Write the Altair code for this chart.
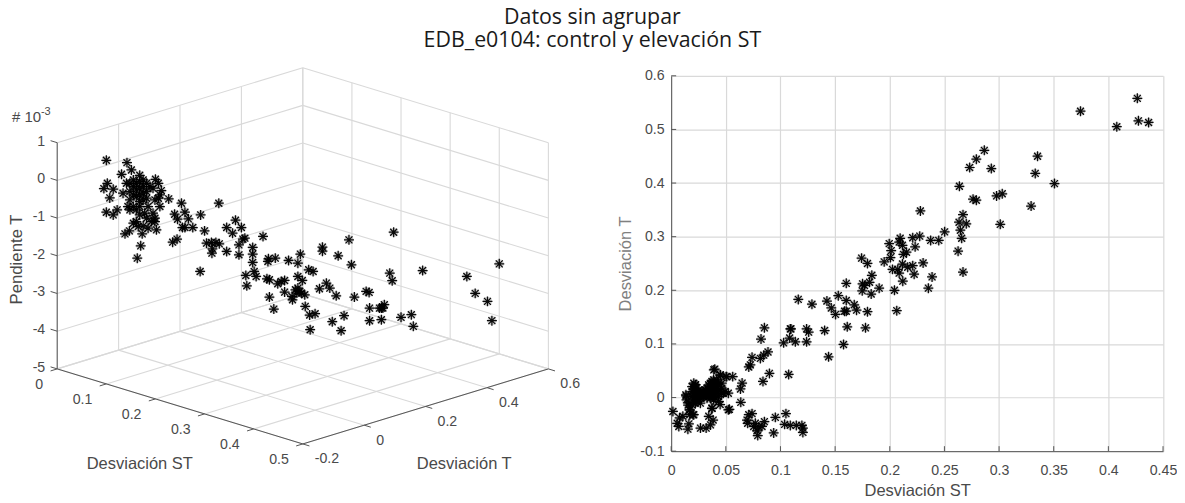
import altair as alt
import pandas as pd

titulo = ["Datos sin agrupar", "EDB_e0104: control y elevación ST"]

# Panel derecho: (Desviación ST, Desviación T)
der_altos = [(.4265,.558),(.3745,.534),(.4077,.505),(.4275,.516),(.4368,.513),(.2865,.461),(.2792,.4445),(.2731,.429),
 (.2929,.427),(.3352,.450),(.3331,.418),(.3507,.399),(.2637,.394),(.2762,.370),(.2792,.368),(.2977,.376),(.3029,.380),
 (.3293,.357),(.3011,.323),(.2670,.341),(.2634,.327),(.2700,.324),(.2646,.312),(.2658,.297),(.2625,.273),(.2670,.234),
 (.2280,.348),(.2502,.309),(.2448,.293),(.2374,.293),(.2274,.301),(.2210,.298),(.2095,.297),(.2086,.290),(.1995,.287),
 (.2232,.281),(.2153,.271),(.2125,.267),(.2013,.274),(.2006,.261),(.1949,.253),(.2305,.251),(.2116,.249),(.2025,.239),
 (.2073,.239),(.2164,.243),(.2210,.246),(.2223,.230),(.2086,.232),(.2119,.217),(.2387,.225),(.2353,.204),(.2043,.200),
 (.2064,.162),(.1903,.204),(.2116,.284)]
der_medios = [(.1836,.228),(.1815,.215),(.1769,.209),(.1751,.212),(.1748,.199),(.1830,.193),(.1742,.260),(.1796,.250),
 (.1602,.213),(.1529,.190),(.1602,.181),(.1675,.173),(.1696,.163),(.1796,.160),(.1586,.161),(.1602,.161),(.1425,.180),
 (.1465,.167),(.1504,.155),(.1611,.132),(.1778,.130),(.1288,.174),(.1163,.183),(.1096,.128),(.1239,.128),(.1258,.122),
 (.1404,.125),(.1577,.099),(.1440,.076),(.1239,.104),(.1136,.104),(.1084,.111),(.1029,.102),(.1090,.128),(.0853,.130),
 (.0822,.109),(.0886,.085),(.0847,.079),(.0816,.073),(.0740,.075),(.0725,.061),(.0710,.057),(.0899,.045),(.0840,.030),
 (.1075,.043),(.0649,.027),(.0634,.016),(.0637,-.009),(.0563,.039),(.0502,.039),(.0451,.042),(.0399,.053),(.0533,-.022)]
der_bajos = [(.0016,-.026),(.1050,-.030),(.0953,-.037),(.0740,-.030),(.0710,-.032),(.0694,-.042),(.0700,-.048),(.0770,-.048),
 (.0853,-.045),(.0755,-.054),(.0801,-.055),(.0831,-.054),(.0785,-.062),(.0792,-.071),(.0938,-.066),(.1038,-.050),(.1090,-.052),
 (.1145,-.052),(.1196,-.052),(.1205,-.057),(.1205,-.065),(.0055,-.048),(.0077,-.038),(.0107,-.035),(.0070,-.054),(.0153,-.059),
 (.0162,-.049),(.0268,-.057),(.0320,-.057),(.0360,-.051),(.0384,-.042),(.0344,-.035),(.0374,-.020),(.0137,.003),(.0162,-.010),
 (.0168,-.023),(.0207,-.032),(.0192,-.014),(.0223,.024),(.0228,.002)]
der_nube = [(.0192,.0205),(.0192,.0112),(.0192,.0019),(.0207,.0267),(.0207,.0143),(.0207,.0050),(.0207,-.0043),(.0222,.0236),
 (.0222,.0174),(.0222,.0081),(.0222,-.0012),(.0222,-.0105),(.0237,.0112),(.0237,.0019),(.0237,-.0074),(.0252,.0143),(.0252,.0050),
 (.0252,-.0043),(.0267,.0081),(.0267,-.0012),(.0267,-.0105),(.0282,.0112),(.0282,.0019),(.0297,.0112),(.0297,.0019),(.0313,.0143),
 (.0313,.0050),(.0328,.0174),(.0328,.0081),(.0328,-.0012),(.0343,.0236),(.0343,.0143),(.0343,.0050),(.0358,.0267),(.0358,.0174),
 (.0358,.0081),(.0358,-.0012),(.0373,.0300),(.0373,.0205),(.0373,.0112),(.0373,.0019),(.0388,.0330),(.0388,.0236),(.0388,.0143),
 (.0388,.0050),(.0388,-.0043),(.0403,.0267),(.0403,.0174),(.0403,.0081),(.0403,-.0012),(.0418,.0330),(.0418,.0205),(.0418,.0112),
 (.0433,.0267),(.0433,.0143),(.0433,.0019),(.0433,-.0074),(.0448,.0423),(.0463,.0267),(.0463,.0174),(.0463,.0081),(.0478,.0081),
 (.0493,.0112),(.0508,.0390),(.0523,.0081),(.0390,.0516),(.0170,-.0229),(.0155,-.0140),(.0170,-.0320),(.0200,-.0320),(.0135,.0050),
 (.0140,-.0043),(.0373,-.0200),(.0448,-.0130),(.0523,-.0229)]

# Panel izquierdo: vista proyectada (h: ancho de la caja 0-1; v: altura aparente en la escala de Pendiente T)
izq_nube = [(.100,.533),(.142,.471),(.151,.277),(.131,.162),(.168,.136),(.200,.030),(.102,-.076),(.095,-.217),(.114,-.235),
 (.107,-.465),(.100,-.844),(.114,-.915),(.122,-.782),(.227,-.491),(.212,-.270),(.138,-1.418),(.147,-1.339),(.173,-1.418),
 (.170,-1.736),(.163,-2.063),(.202,-1.312),(.199,-1.091),(.134,-.341),(.141,-.076),(.148,-.076),(.148,-.297),(.155,.012),
 (.155,-.164),(.155,-.385),(.161,-.076),(.161,-.253),(.161,-.429),(.168,-.032),(.168,-.208),(.168,-.385),(.168,-.562),
 (.175,.012),(.175,-.164),(.175,-.341),(.175,-.518),(.182,-.076),(.182,-.297),(.182,-.473),(.185,-.694),(.189,-.164),
 (.195,-.208),(.199,-.518),(.206,-.473),(.209,-.694),(.206,-.076),(.209,-.385),(.168,-.694),(.161,-.782),(.155,-.694),
 (.144,-.694),(.148,-.782),(.168,-.915),(.161,-1.091),(.155,-1.136),(.178,-.871),(.182,-1.003),(.195,-.871),(.199,-1.003),
 (.165,-1.224),(.175,-1.206),(.185,-1.268),(.192,-1.091),(.148,-.518)]
izq_medios = [(.253,-.606),(.329,-.606),(.260,-.844),(.239,-.897),(.245,-1.030),(.267,-1.021),(.292,-.915),(.255,-1.250),
 (.260,-1.250),(.276,-1.250),(.300,-1.339),(.363,-1.056),(.345,-1.250),(.357,-1.401),(.235,-1.639),(.244,-1.559),(.304,-1.665),
 (.314,-1.648),(.323,-1.648),(.330,-1.683),(.316,-1.816),(.315,-1.930),(.345,-1.886),(.370,-1.710),(.370,-1.974),(.375,-1.250),
 (.382,-1.533),(.378,-1.559),(.419,-1.488),(.291,-2.416),(.398,-1.780),(.398,-1.956),(.398,-2.177),(.401,-2.416),(.384,-2.522),
 (.405,-2.548),(.386,-2.795)]
izq_bajos = [(.430,-2.080),(.429,-2.151),(.444,-2.062),(.471,-2.124),(.490,-2.195),(.495,-1.956),(.540,-1.771),(.540,-1.877),
 (.572,-2.000),(.594,-1.577),(.599,-2.239),(.512,-2.371),(.521,-2.416),(.490,-2.548),(.499,-2.654),(.427,-2.610),(.432,-2.636),
 (.463,-2.654),(.456,-2.680),(.449,-2.742),(.463,-2.963),(.432,-3.095),(.441,-3.413),(.490,-2.857),(.485,-2.901),(.494,-2.945),
 (.504,-3.034),(.478,-3.078),(.479,-3.166),(.488,-2.990),(.497,-2.990),(.505,-3.343),(.514,-3.572),(.525,-3.537),(.515,-3.961),
 (.548,-2.725),(.555,-2.857),(.534,-2.875),(.568,-3.060),(.605,-3.095),(.629,-2.945),(.635,-2.972),(.636,-3.387),(.656,-3.387),
 (.636,-3.722),(.584,-3.590),(.560,-3.749),(.578,-3.987)]
izq_lejanos = [(.685,-1.375),(.677,-2.461),(.744,-2.391),(.834,-2.549),(.900,-2.214),(.682,-2.661),(.851,-2.997),(.876,-3.209),
 (.885,-3.721),(.660,-3.385),(.666,-3.297),(.663,-3.385),(.660,-3.695),(.700,-3.633),(.721,-3.562),(.725,-3.871)]

ticks_st = [0, 0.1, 0.2, 0.3, 0.4, 0.5]
ticks_t = [-0.2, 0, 0.2, 0.4, 0.6]
ticks_z = [-5, -4, -3, -2, -1, 0, 1]
ticks_der_x = [0, .05, .1, .15, .2, .25, .3, .35, .4, .45]
ticks_der_y = [-.1, 0, .1, .2, .3, .4, .5, .6]

FUENTE = "Liberation Sans"
GRIS = "#4a4a4a"
GRID = "#d9d9d9"
ASTERISCO = "M-1,0L1,0M0,-1L0,1M-.7,-.7L.7,.7M-.7,.7L.7,-.7"
MARCA = dict(shape=ASTERISCO, filled=False, stroke="black", strokeWidth=1.25, size=100, opacity=.95)
HALO = dict(shape="circle", filled=True, color="black", size=85, opacity=.2, strokeWidth=0)


def vista(x, y, z):
    xn = x / 0.5
    yn = (y + 0.2) / 0.8
    return 0.5 * (xn + yn), z + 1.99 * (yn - xn)


def segmento(a, b):
    h, v = vista(*a)
    h2, v2 = vista(*b)
    return dict(h=h, v=v, h2=h2, v2=v2)


grid = []
for x in ticks_st:
    grid.append(segmento((x, -.2, -5), (x, .6, -5)))
    grid.append(segmento((x, .6, -5), (x, .6, 1)))
for y in ticks_t:
    grid.append(segmento((0, y, -5), (.5, y, -5)))
    grid.append(segmento((0, y, -5), (0, y, 1)))
for z in ticks_z:
    grid.append(segmento((0, -.2, z), (0, .6, z)))
    grid.append(segmento((0, .6, z), (.5, .6, z)))

ejes = [segmento((0, -.2, -5), (0, -.2, 1)), segmento((0, -.2, -5), (.5, -.2, -5)), segmento((.5, -.2, -5), (.5, .6, -5))]
for x in ticks_st:
    ejes.append(segmento((x, -.2, -5), (x, -.2216, -5)))
for y in ticks_t:
    ejes.append(segmento((.5, y, -5), (.5135, y, -5)))
for z in ticks_z:
    ejes.append(segmento((0, -.2, z), (-.0135, -.2, z)))


def etiquetas(filas):
    out = []
    for t, p in filas:
        h, v = vista(*p)
        out.append(dict(h=h, v=v, t=t))
    return pd.DataFrame(out)


X_IZQ = alt.X("h:Q", axis=None, scale=alt.Scale(domain=[-0.1002, 1.1193], nice=False, zero=False))
Y_IZQ = alt.Y("v:Q", axis=None, scale=alt.Scale(domain=[-7.182, 2.774], nice=False, zero=False))
W1, H = 600, 376

rg = alt.Chart(pd.DataFrame(grid)).mark_rule(color=GRID, strokeWidth=1.1).encode(x=X_IZQ, y=Y_IZQ, x2="h2:Q", y2="v2:Q")
re = alt.Chart(pd.DataFrame(ejes)).mark_rule(color="#555555", strokeWidth=1).encode(x=X_IZQ, y=Y_IZQ, x2="h2:Q", y2="v2:Q")
pts_izq = pd.DataFrame(izq_nube + izq_medios + izq_bajos + izq_lejanos, columns=["h", "v"])
rh = alt.Chart(pts_izq).mark_point(**HALO).encode(x=X_IZQ, y=Y_IZQ)
rp = alt.Chart(pts_izq).mark_point(**MARCA).encode(x=X_IZQ, y=Y_IZQ)


def capa_txt(df, **kw):
    return alt.Chart(df).mark_text(font=FUENTE, fontSize=14.2, color=GRIS, baseline="middle", **kw).encode(x=X_IZQ, y=Y_IZQ, text="t:N")


tx = capa_txt(etiquetas([(str(x), (x, -.2, -5)) for x in ticks_st]), align="right", dx=-14, dy=16)
ty = capa_txt(etiquetas([(str(y), (.5, y, -5)) for y in ticks_t]), align="left", dx=12, dy=15.5)
tz = capa_txt(etiquetas([(str(z), (0, -.2, z)) for z in ticks_z]), align="right", dx=-12, dy=-1)

titulos_izq = pd.DataFrame([
    dict(px=132, py=389, t="Desviación ST"),
    dict(px=457, py=389, t="Desviación T"),
])
tt = alt.Chart(titulos_izq).mark_text(font=FUENTE, fontSize=16.5, color=GRIS, baseline="middle").encode(
    x=alt.X("px:Q", scale=None), y=alt.Y("py:Q", scale=None), text="t:N")
tp = alt.Chart(pd.DataFrame([dict(px=9, py=184, t="Pendiente T")])).mark_text(
    font=FUENTE, fontSize=16.8, color=GRIS, baseline="middle", angle=270).encode(
    x=alt.X("px:Q", scale=None), y=alt.Y("py:Q", scale=None), text="t:N")
te = alt.Chart(pd.DataFrame([dict(px=4, py=41.5, t="# 10")])).mark_text(
    font=FUENTE, fontSize=15, color=GRIS, baseline="middle", align="left").encode(
    x=alt.X("px:Q", scale=None), y=alt.Y("py:Q", scale=None), text="t:N")
te2 = alt.Chart(pd.DataFrame([dict(px=33, py=36, t="-3")])).mark_text(
    font=FUENTE, fontSize=11, color=GRIS, baseline="middle", align="left").encode(
    x=alt.X("px:Q", scale=None), y=alt.Y("py:Q", scale=None), text="t:N")

izq = alt.layer(rg, re, rh, rp, tx, ty, tz, tt, tp, te, te2).properties(width=W1, height=H)

# Panel derecho
W2 = 492.7
pts_der = pd.DataFrame(der_altos + der_medios + der_bajos + der_nube, columns=["x", "y"])
ETQ = "'' + datum.value"
X_DER = alt.X("x:Q", scale=alt.Scale(domain=[0, .45], nice=False, zero=False), axis=alt.Axis(
    values=ticks_der_x, title="Desviación ST", labelExpr=ETQ, grid=True, gridColor=GRID, gridWidth=1.2, tickSize=0,
    domainColor="#555555", labelColor=GRIS, titleColor=GRIS, labelFont=FUENTE, titleFont=FUENTE, labelFontSize=14.2,
    titleFontSize=16.5, titleFontWeight="normal", labelPadding=12, titlePadding=5, labelOverlap=False, labelFlush=False))
Y_DER = alt.Y("y:Q", scale=alt.Scale(domain=[-.1, .6], nice=False, zero=False), axis=alt.Axis(
    values=ticks_der_y, title="Desviación T", labelExpr=ETQ, grid=True, gridColor=GRID, gridWidth=1.2, tickSize=0,
    domainColor="#555555", labelColor=GRIS, titleColor="#808080", labelFont=FUENTE, titleFont=FUENTE, labelFontSize=14.2,
    titleFontSize=16.5, titleFontWeight="normal", labelPadding=7, titlePadding=6, labelOverlap=False, labelFlush=False))
d_h = alt.Chart(pts_der).mark_point(**HALO).encode(x=X_DER, y=Y_DER)
d_p = alt.Chart(pts_der).mark_point(**MARCA).encode(x=X_DER, y=Y_DER)
d_tx = alt.Chart(pd.DataFrame({"x": ticks_der_x})).mark_rule(color="#555555").encode(
    x=alt.X("x:Q"), y=alt.value(H), y2=alt.value(H - 5))
d_ty = alt.Chart(pd.DataFrame({"y": ticks_der_y})).mark_rule(color="#555555").encode(
    y=alt.Y("y:Q"), x=alt.value(0), x2=alt.value(5))
der = alt.layer(d_h, d_p, d_tx, d_ty).properties(width=W2, height=H)

chart = alt.hconcat(izq, der, spacing=64.3, bounds="flush").properties(
    padding={"left": 0, "top": -1.5, "right": 0, "bottom": 0},
    title=alt.TitleParams(titulo, anchor="middle", font="Open Sans", fontSize=21.4, fontWeight="normal", color="#1a1a1a",
                          lineHeight=23, offset=15.5),
).configure_view(stroke=None)

chart.save("out.html", embed_options={"renderer": "svg", "actions": False})
